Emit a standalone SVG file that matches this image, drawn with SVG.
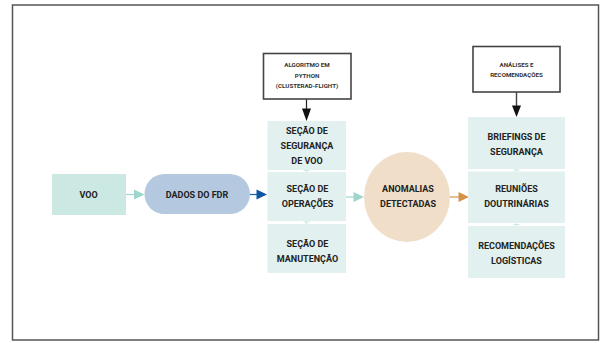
<svg xmlns="http://www.w3.org/2000/svg" width="601" height="343" viewBox="0 0 601 343">
<defs>
<style>
.t{font-family:Roboto,"Liberation Sans",sans-serif;font-weight:bold;font-size:9px;fill:#222;text-anchor:middle}
.s{font-family:Roboto,"Liberation Sans",sans-serif;font-weight:bold;font-size:6.2px;fill:#333;text-anchor:middle}
.box{fill:#e2f1ef}
.note{fill:#fff;stroke:#444;stroke-width:1.6}
.plus{stroke:#bfe3dc;stroke-width:0.8}
</style>
</defs>
<rect x="12.5" y="5" width="586" height="335" fill="#fff" stroke="#555" stroke-width="1.5"/>
<g id="connectors">
<line x1="126" y1="194.5" x2="135" y2="194.5" stroke="#9fd6cc" stroke-width="1.2"/>
<polygon points="134,189.5 144.5,194.5 134,199.5" fill="#9fd6cc"/>
<line x1="250" y1="194.5" x2="257" y2="194.5" stroke="#1a5ea8" stroke-width="1.2"/>
<polygon points="256.5,189.5 267,194.5 256.5,199.5" fill="#0d56a3"/>
<line x1="346" y1="197" x2="354" y2="197" stroke="#9fd6cc" stroke-width="1.2"/>
<polygon points="353.5,192 364,197 353.5,202" fill="#9fd6cc"/>
<line x1="450" y1="197" x2="459" y2="197" stroke="#d4934a" stroke-width="1.2"/>
<polygon points="458.5,192 469,197 458.5,202" fill="#d4934a"/>
<line x1="306.5" y1="99" x2="306.5" y2="109" stroke="#222" stroke-width="1.2"/>
<polygon points="302,108.5 311,108.5 306.5,121" fill="#111"/>
<line x1="516.5" y1="92" x2="516.5" y2="106" stroke="#444" stroke-width="1.4"/>
<polygon points="512,105.5 521,105.5 516.5,117" fill="#111"/>
<path class="plus" d="M303.5 170.5h6M306.5 167.5v6M303.5 222h6M306.5 219v6M513.5 170h6M516.5 167v6M513.5 224.5h6M516.5 221.5v6"/>
</g>
<g id="voo">
<rect x="52" y="174" width="74" height="41" fill="#cce8e2"/>
<text class="t" x="88.5" y="197.5">VOO</text>
</g>
<g id="fdr">
<rect x="144.5" y="174" width="105.5" height="40" rx="20" fill="#b4c9e0"/>
<text class="t" x="197" y="197.5">DADOS DO FDR</text>
</g>
<g id="algoritmo">
<rect class="note" x="263.5" y="53.5" width="87.5" height="45.5"/>
<text class="s" x="307" y="67">ALGORITMO EM</text>
<text class="s" x="307" y="77.5">PYTHON</text>
<text class="s" x="307" y="88">(CLUSTERAD-FLIGHT)</text>
</g>
<g id="secao-seguranca">
<rect class="box" x="267.5" y="121" width="78.5" height="49"/>
<text class="t" x="307" y="133.7">SEÇÃO DE</text>
<text class="t" x="307" y="148.7">SEGURANÇA</text>
<text class="t" x="307" y="163.7">DE VOO</text>
</g>
<g id="secao-operacoes">
<rect class="box" x="267.5" y="172" width="78.5" height="49"/>
<text class="t" x="307.5" y="192.2">SEÇÃO DE</text>
<text class="t" x="307.5" y="206.7">OPERAÇÕES</text>
</g>
<g id="secao-manutencao">
<rect class="box" x="267.5" y="224" width="78.5" height="49"/>
<text class="t" x="307.5" y="246.7">SEÇÃO DE</text>
<text class="t" x="307.5" y="261.7">MANUTENÇÃO</text>
</g>
<g id="anomalias">
<ellipse cx="407" cy="197" rx="43" ry="45" fill="#f0dec9"/>
<text class="t" x="408" y="192.2">ANOMALIAS</text>
<text class="t" x="408" y="207.2">DETECTADAS</text>
</g>
<g id="analises">
<rect class="note" x="473" y="46.5" width="87" height="45.5"/>
<text class="s" x="516.5" y="66.5">ANÁLISES E</text>
<text class="s" x="516.5" y="77">RECOMENDAÇÕES</text>
</g>
<g id="briefings">
<rect class="box" x="468" y="117" width="97" height="52"/>
<text class="t" x="516.5" y="140.2">BRIEFINGS DE</text>
<text class="t" x="516.5" y="155.2">SEGURANÇA</text>
</g>
<g id="reunioes">
<rect class="box" x="468" y="171.5" width="97" height="51.5"/>
<text class="t" x="516.5" y="191.7">REUNIÕES</text>
<text class="t" x="516.5" y="206.7">DOUTRINÁRIAS</text>
</g>
<g id="recomendacoes">
<rect class="box" x="468" y="226" width="97" height="52"/>
<text class="t" x="516.5" y="248.7">RECOMENDAÇÕES</text>
<text class="t" x="516.5" y="263.7">LOGÍSTICAS</text>
</g>
</svg>
